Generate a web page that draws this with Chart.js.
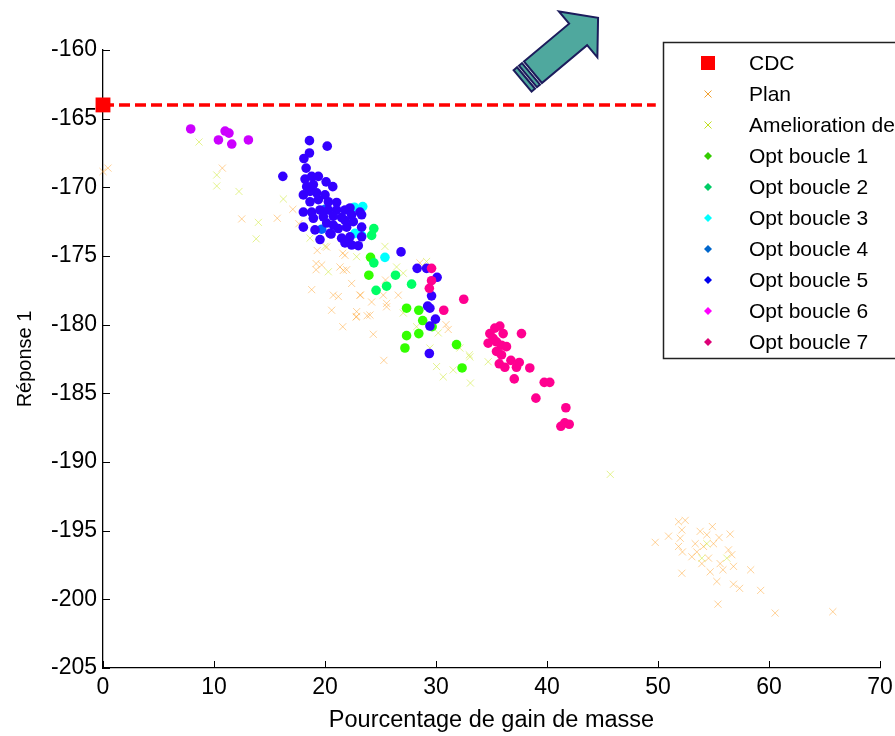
<!DOCTYPE html>
<html>
<head>
<meta charset="utf-8">
<script src="https://cdn.jsdelivr.net/npm/chart.js@4.4.0/dist/chart.umd.min.js"></script>
<style>
html, body { margin: 0; padding: 0; background: #fff; overflow: hidden; }
#wrap { width: 895px; height: 736px; position: relative; }
</style>
</head>
<body>
<div id="wrap"><canvas id="c"></canvas></div>
<script>
// valeurs : [gain de masse %, reponse 1]
const cdc = [[0, -164]];
const cdcLine = [[0, -164], [49.8, -164]];

const plan = [
  [0, -168.85], [0.45, -168.6], [10.75, -168.6], [12.5, -172.3], [15.7, -172.25], [17.1, -171.6], [17.65, -172.65],
  [18.8, -177.45], [19.3, -174.6], [19.2, -175.55], [19.7, -175.65], [19.2, -176.0], [20.15, -174.35], [20.75, -177.85],
  [21.2, -177.95], [20.6, -178.95], [21.6, -174.8], [21.95, -176.0], [21.6, -180.15], [22.4, -177.0], [23.2, -177.85],
  [22.85, -179.05], [22.8, -179.45], [23.8, -179.35], [24.2, -178.35], [25.55, -178.7], [24.35, -180.7], [25.3, -182.6],
  [25.45, -176.75], [21.8, -174.95], [21.35, -175.8], [21.65, -176.05], [23.15, -177.85], [25.25, -177.85], [22.85, -179.4],
  [24.05, -179.3], [25.55, -178.45], [26.6, -177.85], [28.55, -175.5], [31.1, -180.35], [30.9, -180.0],
  [51.85, -194.35], [52.45, -194.25], [52.15, -194.95], [49.75, -195.85], [50.95, -195.4], [53.8, -195.05], [54.9, -194.7],
  [54.4, -195.3], [55.5, -195.5], [56.5, -195.25], [52.0, -195.55], [51.85, -196.15], [52.2, -196.55], [53.35, -195.95],
  [53.5, -196.55], [53.05, -196.9], [54.1, -196.15], [54.55, -197.0], [55.0, -195.95], [53.95, -197.4], [55.6, -197.4],
  [55.85, -197.85], [56.35, -196.4], [56.65, -196.75], [56.8, -197.6], [52.15, -198.1], [54.7, -198.0], [55.3, -198.7],
  [56.8, -198.9], [57.35, -199.2], [58.35, -197.85], [59.25, -199.35], [55.4, -200.35], [60.55, -201.0], [65.75, -200.9]
];

const amelioration = [
  [8.65, -166.7], [10.25, -169.1], [10.25, -169.9], [12.25, -170.3], [14.0, -172.55], [13.8, -173.75], [16.25, -170.85],
  [18.65, -173.7], [20.0, -174.3], [22.85, -175.05], [20.3, -176.15], [25.4, -174.3], [26.45, -175.8], [27.05, -176.25],
  [29.15, -175.4], [27.05, -179.15], [28.25, -180.15], [30.2, -180.6], [29.45, -181.7], [32.15, -181.7], [33.05, -182.35],
  [33.0, -182.2], [34.7, -182.7], [30.05, -183.05], [30.65, -183.8], [31.55, -183.3], [33.1, -184.25], [45.7, -190.9],
  [54.4, -195.95], [53.95, -197.0], [56.2, -197.0]
];

const opt1 = [
  [24.1, -175.1], [23.95, -176.4], [27.35, -178.8], [28.45, -178.95], [28.8, -179.7], [29.65, -180.15],
  [27.35, -180.8], [28.45, -180.65], [27.2, -181.7], [31.85, -181.45], [32.35, -183.15]
];
const opt2 = [[24.4, -173.0], [24.2, -173.5], [24.4, -175.5], [26.35, -176.4], [27.8, -177.05], [25.55, -177.2], [24.6, -177.5]];
const opt3 = [[23.4, -171.4], [22.65, -171.45], [23.3, -173.5], [22.7, -173.35], [25.4, -175.1]];
const opt4 = [[19.7, -173.05], [20.0, -171.6]];
const opt5 = [
  [18.6, -166.6], [20.2, -167.0], [18.6, -167.5], [18.1, -167.9], [18.3, -168.6], [16.2, -169.2], [18.2, -169.4],
  [18.8, -169.2], [19.4, -169.2], [20.1, -169.6], [20.7, -169.95], [18.35, -169.95], [18.95, -169.8], [18.05, -170.55],
  [18.65, -170.3], [19.25, -170.4], [20.0, -170.55], [18.65, -171.05], [19.4, -170.9], [20.3, -171.05], [21.05, -171.1],
  [18.05, -171.8], [18.8, -171.8], [19.55, -171.65], [20.3, -171.65], [21.05, -171.65], [21.8, -171.65], [22.25, -171.5],
  [18.95, -172.25], [19.85, -172.15], [20.75, -172.1], [21.5, -172.2], [22.4, -172.0], [23.15, -171.8], [23.3, -172.0],
  [23.3, -172.9], [23.3, -173.6], [18.05, -172.9], [19.1, -173.1], [19.55, -173.8], [20.45, -173.35], [21.2, -173.0],
  [21.95, -172.9], [21.5, -173.7], [22.25, -173.6], [22.4, -174.2], [23.0, -174.25], [20.75, -172.75], [20.15, -172.6],
  [21.8, -172.4], [22.55, -172.5], [20.55, -173.4], [21.8, -174.05],
  [26.85, -174.7], [28.3, -175.9], [29.15, -175.9], [30.1, -176.55], [29.6, -177.9], [29.25, -178.65], [29.45, -178.8],
  [29.95, -179.6], [29.45, -180.1], [29.4, -182.1]
];
const opt6 = [[7.9, -165.75], [10.4, -166.55], [11.0, -165.9], [11.35, -166.05], [11.6, -166.85], [13.1, -166.55]];
const opt7 = [
  [29.6, -175.9], [29.6, -176.8], [29.4, -177.35], [30.7, -178.95], [32.5, -178.15], [35.75, -180.1], [35.3, -180.25],
  [34.85, -180.65], [36.05, -180.65], [34.7, -181.35], [35.45, -181.25], [35.9, -181.5], [36.35, -181.6], [35.45, -181.95],
  [35.9, -182.2], [37.7, -180.65], [35.7, -182.85], [36.2, -183.1], [36.75, -182.6], [37.5, -182.75], [37.25, -183.1],
  [37.05, -183.95], [38.45, -183.15], [39.75, -184.2], [40.25, -184.2], [39.0, -185.35], [41.7, -186.05], [41.25, -187.4],
  [41.6, -187.15], [42.0, -187.25], [35.15, -181.0]
];

const legendLabels = ['CDC', 'Plan', 'Amelioration des plans', 'Opt boucle 1', 'Opt boucle 2', 'Opt boucle 3',
  'Opt boucle 4', 'Opt boucle 5', 'Opt boucle 6', 'Opt boucle 7'];
const legendColors = ['#ff0000', '#f0a030', '#c0e020', '#33cc00', '#00cc66', '#00ffff', '#0066cc', '#0000ee', '#ff00ff', '#dd0077'];
const optColors = ['#33ff00', '#00ff66', '#00ffff', '#0066ff', '#3300ff', '#cc00ff', '#ff0090'];

// fleche (queue, pointe) en coordonnees des axes
const arrowTail = [37.8, -162.25];
const arrowTip = [44.6, -157.65];

const FONT = 'Arial, "Liberation Sans", sans-serif';
const pts = a => a.map(p => ({ x: p[0], y: p[1] }));

const optSets = [opt1, opt2, opt3, opt4, opt5, opt6, opt7].map((d, i) => ({
  label: legendLabels[i + 3],
  data: pts(d),
  pointStyle: 'circle',
  pointRadius: 4.8,
  pointBorderWidth: 0,
  backgroundColor: optColors[i],
  borderColor: optColors[i],
  clip: false,
  order: 8 - i
}));

const inwardTicks = {
  id: 'inwardTicks',
  afterDatasetsDraw(chart) {
    const { ctx, chartArea: a, scales: { x, y } } = chart;
    ctx.save();
    ctx.strokeStyle = '#000';
    ctx.lineWidth = 1;
    x.ticks.forEach((t, i) => {
      const px = Math.round(x.getPixelForTick(i)) + 0.5;
      ctx.beginPath(); ctx.moveTo(px, a.bottom); ctx.lineTo(px, a.bottom - 7); ctx.stroke();
    });
    y.ticks.forEach((t, i) => {
      const py = Math.round(y.getPixelForTick(i)) + 0.5;
      ctx.beginPath(); ctx.moveTo(a.left, py); ctx.lineTo(a.left + 7, py); ctx.stroke();
    });
    ctx.restore();
  }
};

const arrowPlugin = {
  id: 'arrow',
  afterDraw(chart) {
    const { ctx, scales: { x, y } } = chart;
    const tx = x.getPixelForValue(arrowTail[0]), ty = y.getPixelForValue(arrowTail[1]);
    const px = x.getPixelForValue(arrowTip[0]), py = y.getPixelForValue(arrowTip[1]);
    const L = Math.hypot(px - tx, py - ty);
    const ux = (px - tx) / L, uy = (py - ty) / L;
    const nx = -uy, ny = ux;
    const P = (s, w) => [tx + ux * s + nx * w, ty + uy * s + ny * w];
    const poly = list => {
      ctx.beginPath();
      list.forEach((q, i) => { const p = P(q[0], q[1]); i ? ctx.lineTo(p[0], p[1]) : ctx.moveTo(p[0], p[1]); });
      ctx.closePath(); ctx.fill(); ctx.stroke();
    };
    ctx.save();
    ctx.fillStyle = '#4fa89e';
    ctx.strokeStyle = '#1c1c5c';
    ctx.lineWidth = 2;
    poly([[13.5, -14], [L - 26, -14], [L - 26, -30], [L, 0], [L - 26, 30], [L - 26, 14], [13.5, 14]]);
    poly([[7, -14], [11, -14], [11, 14], [7, 14]]);
    poly([[0, -14], [4.5, -14], [4.5, 14], [0, 14]]);
    ctx.restore();
  }
};

const legendBox = {
  id: 'legendBox',
  afterDraw(chart) {
    const ctx = chart.ctx;
    ctx.save();
    ctx.fillStyle = '#fff';
    ctx.fillRect(663, 42, 300, 316);
    ctx.strokeStyle = '#222';
    ctx.lineWidth = 1.5;
    ctx.strokeRect(663.5, 42.5, 300, 316);
    ctx.font = '21px ' + FONT;
    ctx.textBaseline = 'middle';
    legendLabels.forEach((lab, i) => {
      const cy = 63 + i * 31, cx = 708;
      const col = legendColors[i];
      ctx.fillStyle = col;
      ctx.strokeStyle = col;
      if (i === 0) {
        ctx.fillRect(cx - 7, cy - 7, 14, 14);
      } else if (i < 3) {
        ctx.lineWidth = 1;
        ctx.beginPath();
        ctx.moveTo(cx - 3.5, cy - 3.5); ctx.lineTo(cx + 3.5, cy + 3.5);
        ctx.moveTo(cx + 3.5, cy - 3.5); ctx.lineTo(cx - 3.5, cy + 3.5);
        ctx.stroke();
      } else {
        ctx.beginPath();
        ctx.moveTo(cx, cy - 4); ctx.lineTo(cx + 4, cy); ctx.lineTo(cx, cy + 4); ctx.lineTo(cx - 4, cy);
        ctx.closePath(); ctx.fill();
      }
      ctx.fillStyle = '#000';
      ctx.fillText(lab, 749, cy + 1);
    });
    ctx.restore();
  }
};

new Chart(document.getElementById('c'), {
  type: 'scatter',
  data: {
    datasets: [
      {
        label: legendLabels[1], data: pts(plan), pointStyle: 'crossRot', pointRadius: 5,
        pointBorderWidth: 1, borderColor: 'rgba(255,165,50,0.5)', backgroundColor: 'rgba(255,165,50,0.5)',
        clip: false, order: 10
      },
      {
        label: legendLabels[2], data: pts(amelioration), pointStyle: 'crossRot', pointRadius: 5,
        pointBorderWidth: 1, borderColor: 'rgba(210,235,70,0.6)', backgroundColor: 'rgba(210,235,70,0.6)',
        clip: false, order: 9
      },
      ...optSets,
      {
        type: 'line', label: 'ligne CDC', data: pts(cdcLine), borderColor: '#ff0000', borderWidth: 3.5,
        borderDash: [11, 5], pointRadius: 0, fill: false, clip: false, order: 1
      },
      {
        label: legendLabels[0], data: pts(cdc), pointStyle: 'rect', pointRadius: 10.5, pointBorderWidth: 0,
        backgroundColor: '#ff0000', borderColor: '#ff0000', clip: false, order: 0
      }
    ]
  },
  options: {
    responsive: true,
    maintainAspectRatio: false,
    animation: false,
    layout: { padding: { top: 50, right: 15, left: 0, bottom: 0 } },
    plugins: { legend: { display: false }, tooltip: { enabled: false } },
    scales: {
      x: {
        type: 'linear', min: 0, max: 70,
        ticks: { stepSize: 10, color: '#000', padding: 6, font: { family: FONT, size: 23 } },
        grid: { drawOnChartArea: false, drawTicks: false },
        border: { color: '#000', width: 1.3 },
        title: { display: true, text: 'Pourcentage de gain de masse', color: '#000',
          font: { family: FONT, size: 23.5 }, padding: { top: 0, bottom: 1 } },
        afterFit: s => { s.height = 68; s.paddingRight = 0; s.paddingLeft = 0; }
      },
      y: {
        min: -205, max: -160,
        ticks: { stepSize: 5, color: '#000', padding: 6, font: { family: FONT, size: 23 } },
        grid: { drawOnChartArea: false, drawTicks: false },
        border: { color: '#000', width: 1.3 },
        title: { display: true, text: 'Réponse 1', color: '#000',
          font: { family: FONT, size: 20 }, padding: { top: 13, bottom: 0 } },
        afterFit: s => { s.width = 103; }
      }
    }
  },
  plugins: [inwardTicks, arrowPlugin, legendBox]
});
</script>
</body>
</html>
